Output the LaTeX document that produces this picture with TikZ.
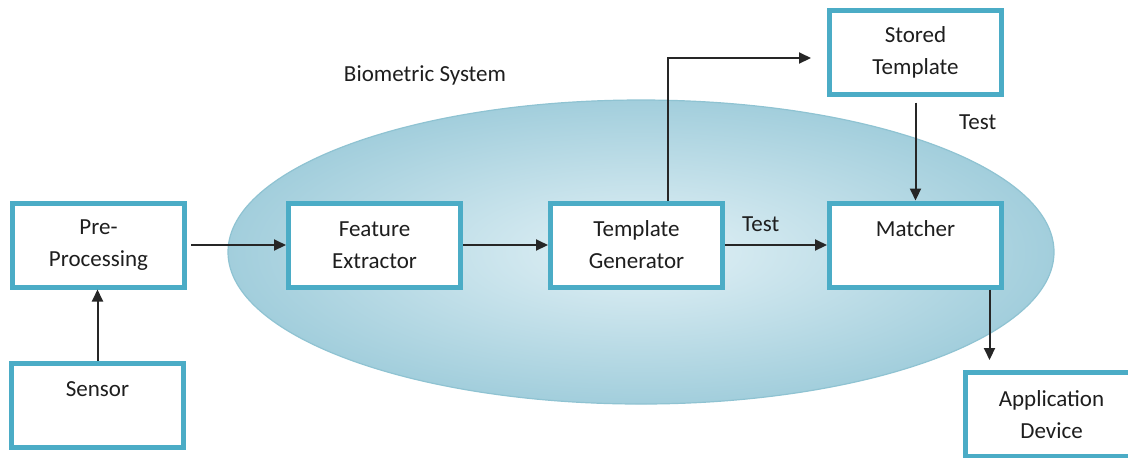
\documentclass[tikz,border=0pt]{standalone}
\usepackage{fontspec}
\setmainfont{Carlito}
\usetikzlibrary{arrows.meta,calc}
\definecolor{boxline}{HTML}{4BACC6}
\definecolor{ovalin}{HTML}{E2F1F6}
\definecolor{ovalout}{HTML}{A2CEDC}
\definecolor{ovalline}{HTML}{8FC3D2}
\definecolor{txt}{HTML}{1E1E1E}

\begin{document}
\begin{tikzpicture}[x=0.5pt,y=-0.5pt,
  blk/.style={draw=boxline, line width=2.5pt, fill=white, minimum width=86pt,
    minimum height=42pt, align=center, text=txt, inner sep=0pt,
    font=\fontsize{11.5}{16}\selectfont},
  arr/.style={-{Triangle[length=6pt,width=5.5pt]}, line width=1pt, black!85},
  lbl/.style={text=txt, font=\fontsize{11.5}{14}\selectfont}]
  \clip (0,0) rectangle (1128,457);
  % the system oval
  \shadedraw[inner color=ovalin, outer color=ovalout, draw=ovalline, line width=0.6pt]
    (641,252) ellipse (413 and 152);
  \node[lbl] (sys) at (425,75) {Biometric System};
  % blocks
  \node[blk] (pre) at (98.5,245) {Pre-\\Processing};
  \node[blk] (sens) at (97.5,405) {Sensor\\~};
  \node[blk] (feat) at (374.5,245) {Feature\\Extractor};
  \node[blk] (tgen) at (636.5,245) {Template\\Generator};
  \node[blk] (store) at (915.5,52) {Stored\\Template};
  \node[blk] (match) at (915.5,245) {Matcher\\~};
  \node[blk] (app) at (1051.5,414.5) {Application\\Device};
  % connectors
  \coordinate (tout) at ($(tgen.north)+(31,0)$);
  \coordinate (sin) at ($(store.west)+(-16,6)$);
  \coordinate (mout) at ($(match.south)+(74,0)$);
  \draw[arr] (sens.north) -- (sens.north |- pre.south);
  \draw[arr, shorten <=2pt] (pre) -- (feat);
  \draw[arr] (feat) -- (tgen);
  \draw[arr] (tgen) -- node[lbl, above=3pt, pos=0.35] (t1) {Test} (match);
  \draw[arr] (tout) |- (sin);
  \draw[arr, shorten <=3pt] (store) -- node[lbl, right=18pt, pos=0.25] (t2) {Test} (match);
  \draw[arr, shorten >=5pt] (mout) -- (mout |- app.north);
\end{tikzpicture}
\end{document}
